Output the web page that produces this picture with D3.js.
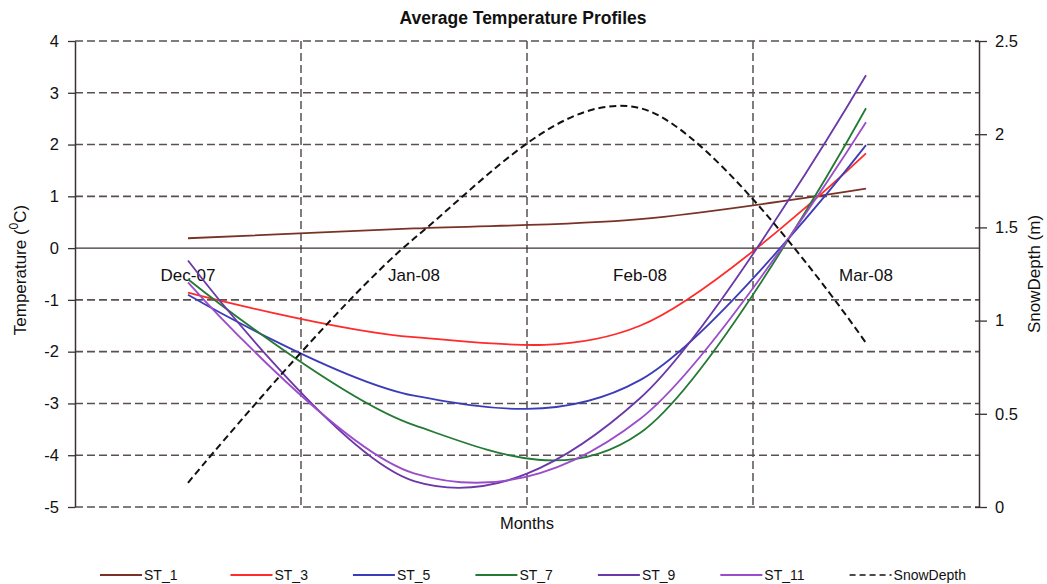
<!DOCTYPE html>
<html>
<head>
<meta charset="utf-8">
<script src="https://cdn.jsdelivr.net/npm/d3@7"></script>
<style>
  body { margin: 0; background: #fff; }
  text { font-family: Arial, "Liberation Sans", sans-serif; fill: #111; }
</style>
</head>
<body>
<script>
// monthly averages, one value per month
var months = ["Dec-07", "Jan-08", "Feb-08", "Mar-08"];
var st1 = [0.19, 0.38, 0.56, 1.15];
var st3 = [-0.86, -1.72, -1.5, 1.83];
var st5 = [-0.9, -2.85, -2.55, 1.99];
var st7 = [-0.6, -3.42, -3.57, 2.7];
var st9 = [-0.24, -4.5, -2.9, 3.34];
var st11 = [-0.66, -4.35, -3.3, 2.43];
var snowDepth = [0.13, 1.44, 2.14, 0.88];
var tempTicks = [-5, -4, -3, -2, -1, 0, 1, 2, 3, 4];
var snowTicks = [0, 0.5, 1, 1.5, 2, 2.5];

var series = [
  {name: "ST_1", values: st1, color: "#7a3226"},
  {name: "ST_3", values: st3, color: "#ff2a2a"},
  {name: "ST_5", values: st5, color: "#3c3cb8"},
  {name: "ST_7", values: st7, color: "#237a33"},
  {name: "ST_9", values: st9, color: "#6a38a8"},
  {name: "ST_11", values: st11, color: "#9a4cca"}
];

var W = 1047, H = 584;
var plot = {left: 75, right: 979, top: 41, bottom: 507};
var gridColor = "#5a5050";
var axisColor = "#3a3232";

var svg = d3.select("body")
  .append("svg")
    .attr("width", W)
    .attr("height", H);

var x = d3.scaleBand().domain(months).range([plot.left, plot.right]).padding(0);
var yT = d3.scaleLinear().domain([-5, 4]).range([plot.bottom, plot.top]);
var yS = d3.scaleLinear().domain([0, 2.5]).range([plot.bottom, plot.top]);
var cx = function(m) { return x(m) + x.bandwidth() / 2; };

// horizontal grid
svg.append("g").selectAll("line")
  .data(tempTicks.filter(function(d) { return d !== 0; }))
  .enter()
  .append("line")
    .attr("x1", plot.left)
    .attr("x2", plot.right)
    .attr("y1", function(d) { return yT(d); })
    .attr("y2", function(d) { return yT(d); })
    .attr("stroke", gridColor)
    .attr("stroke-width", 1.6)
    .attr("stroke-dasharray", "8,4");

// vertical grid between months
svg.append("g").selectAll("line")
  .data(months.slice(1))
  .enter()
  .append("line")
    .attr("x1", function(d) { return x(d); })
    .attr("x2", function(d) { return x(d); })
    .attr("y1", plot.top)
    .attr("y2", plot.bottom)
    .attr("stroke", gridColor)
    .attr("stroke-width", 1.5)
    .attr("stroke-dasharray", "8,4");

// zero line
svg.append("line")
  .attr("x1", plot.left).attr("x2", plot.right)
  .attr("y1", yT(0)).attr("y2", yT(0))
  .attr("stroke", axisColor)
  .attr("stroke-width", 1.4);

// left axis
var leftAxis = svg.append("g")
  .attr("transform", "translate(" + plot.left + ",0)")
  .call(d3.axisLeft(yT).tickValues(tempTicks).tickSizeInner(7).tickSizeOuter(0).tickPadding(9)
    .tickFormat(function(d) { return String(d); }));
leftAxis.select(".domain").attr("stroke", axisColor).attr("stroke-width", 1.5);
leftAxis.selectAll(".tick line").attr("stroke", axisColor).attr("stroke-width", 1.3);
leftAxis.selectAll(".tick text").style("font-size", "16.5px").attr("fill", "#111");

// right axis
var rightAxis = svg.append("g")
  .attr("transform", "translate(" + plot.right + ",0)")
  .call(d3.axisRight(yS).tickValues(snowTicks).tickSizeInner(8).tickSizeOuter(0).tickPadding(8)
    .tickFormat(function(d) { return String(d); }));
rightAxis.select(".domain").attr("stroke", axisColor).attr("stroke-width", 1.5);
rightAxis.selectAll(".tick line").attr("x1", -4).attr("stroke", axisColor).attr("stroke-width", 1.3);
rightAxis.selectAll(".tick text").style("font-size", "16.5px").attr("fill", "#111");

// month labels sit just under the zero line
svg.append("g").selectAll("text")
  .data(months)
  .enter()
  .append("text")
    .attr("x", cx)
    .attr("y", yT(0) + 33)
    .attr("text-anchor", "middle")
    .style("font-size", "17px")
    .text(function(d) { return d; });

// temperature curves
var line = d3.line()
  .x(function(d, i) { return cx(months[i]); })
  .y(function(d) { return yT(d); })
  .curve(d3.curveCardinal.tension(0));

svg.append("g").selectAll("path")
  .data(series)
  .enter()
  .append("path")
    .attr("d", function(d) { return line(d.values); })
    .attr("fill", "none")
    .attr("stroke", function(d) { return d.color; })
    .attr("stroke-width", 1.8);

// snow depth on the right axis
var snowLine = d3.line()
  .x(function(d, i) { return cx(months[i]); })
  .y(function(d) { return yS(d); })
  .curve(d3.curveCardinal.tension(0));

svg.append("path")
  .attr("d", snowLine(snowDepth))
  .attr("fill", "none")
  .attr("stroke", "#111")
  .attr("stroke-width", 2)
  .attr("stroke-dasharray", "7,4");

// titles
svg.append("text")
  .attr("x", 523).attr("y", 24)
  .attr("text-anchor", "middle")
  .style("font-size", "17.5px")
  .style("font-weight", "bold")
  .text("Average Temperature Profiles");

svg.append("text")
  .attr("x", (plot.left + plot.right) / 2).attr("y", 529)
  .attr("text-anchor", "middle")
  .style("font-size", "16.5px")
  .text("Months");

var yTitle = svg.append("text")
  .attr("transform", "translate(20,270) rotate(-90)")
  .attr("text-anchor", "middle")
  .attr("dominant-baseline", "central")
  .style("font-size", "17px");
yTitle.append("tspan").text("Temperature (");
yTitle.append("tspan").attr("dy", -6).style("font-size", "12px").text("0");
yTitle.append("tspan").attr("dy", 6).text("C)");

svg.append("text")
  .attr("transform", "translate(1034,274) rotate(-90)")
  .attr("text-anchor", "middle")
  .attr("dominant-baseline", "central")
  .style("font-size", "17px")
  .text("SnowDepth (m)");

// legend
var legendItems = series.map(function(s) { return {name: s.name, color: s.color, dash: null}; })
  .concat([{name: "SnowDepth", color: "#111", dash: "6,4"}]);
var legend = svg.append("g").attr("class", "legend");
var lx = 100, ly = 575;
legendItems.forEach(function(d, i) {
  var g = legend.append("g").attr("transform", "translate(" + lx + "," + ly + ")");
  g.append("line")
    .attr("x1", 0).attr("x2", 42)
    .attr("stroke", d.color)
    .attr("stroke-width", d.dash ? 1.5 : 1.8)
    .attr("stroke-dasharray", d.dash);
  var t = g.append("text")
    .attr("x", 44).attr("y", 5)
    .style("font-size", "14px")
    .text(d.name);
  lx += 44 + t.node().getComputedTextLength() + (i === 0 ? 53 : 45);
});
</script>
</body>
</html>
